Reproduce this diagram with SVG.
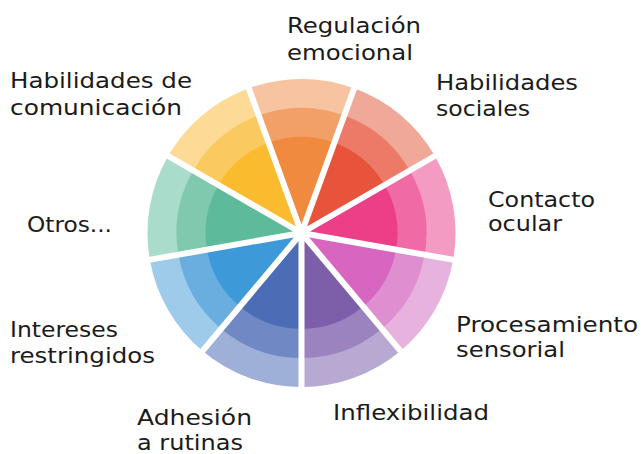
<svg xmlns="http://www.w3.org/2000/svg" width="643" height="454" viewBox="0 0 643 454">
<style>
text{font-family:"DejaVu Sans","Liberation Sans",sans-serif;font-size:21px;fill:#1b1b1b}
.gap{stroke:#ffffff;stroke-width:6;stroke-linecap:butt;fill:none}
.o1{fill:#F7C3A0}.o2{fill:#F2A068}.o3{fill:#F08A3E}
.r1{fill:#F0A898}.r2{fill:#EC7A66}.r3{fill:#E8533C}
.p1{fill:#F49BC3}.p2{fill:#F06AA5}.p3{fill:#EC3F88}
.m1{fill:#E8B2DF}.m2{fill:#DF8FD0}.m3{fill:#D866C0}
.v1{fill:#B8A9D3}.v2{fill:#9A83BF}.v3{fill:#7D5EA8}
.b1{fill:#9EB0D8}.b2{fill:#7089C5}.b3{fill:#4A6DB5}
.c1{fill:#9FCBEB}.c2{fill:#6AAEE0}.c3{fill:#3D99D8}
.g1{fill:#A9DCCA}.g2{fill:#80C9AE}.g3{fill:#5DBB9C}
.y1{fill:#FDDB96}.y2{fill:#FAC95F}.y3{fill:#FBBB2E}
</style>
<rect width="643" height="454" fill="#ffffff"/>

<g id="regulacion">
<path class="o1" d="M301.5 233 L248.83 88.29 A154 154 0 0 1 354.17 88.29 Z"/>
<path class="o2" d="M301.5 233 L258.75 115.54 A125 125 0 0 1 344.25 115.54 Z"/>
<path class="o3" d="M301.5 233 L268.67 142.79 A96 96 0 0 1 334.33 142.79 Z"/>
<text x="287" y="33" textLength="134" lengthAdjust="spacingAndGlyphs">Regulación</text>
<text x="287" y="60" textLength="126" lengthAdjust="spacingAndGlyphs">emocional</text>
</g>

<g id="habilidades-sociales">
<path class="r1" d="M301.5 233 L354.17 88.29 A154 154 0 0 1 434.87 156 Z"/>
<path class="r2" d="M301.5 233 L344.25 115.54 A125 125 0 0 1 409.75 170.5 Z"/>
<path class="r3" d="M301.5 233 L334.33 142.79 A96 96 0 0 1 384.64 185 Z"/>
<text x="436" y="90" textLength="142" lengthAdjust="spacingAndGlyphs">Habilidades</text>
<text x="436" y="116" textLength="94" lengthAdjust="spacingAndGlyphs">sociales</text>
</g>

<g id="contacto-ocular">
<path class="p1" d="M301.5 233 L434.87 156 A154 154 0 0 1 453.16 259.73 Z"/>
<path class="p2" d="M301.5 233 L409.75 170.5 A125 125 0 0 1 424.6 254.7 Z"/>
<path class="p3" d="M301.5 233 L384.64 185 A96 96 0 0 1 396.04 249.67 Z"/>
<text x="488" y="207" textLength="107" lengthAdjust="spacingAndGlyphs">Contacto</text>
<text x="488" y="231" textLength="74" lengthAdjust="spacingAndGlyphs">ocular</text>
</g>

<g id="procesamiento-sensorial">
<path class="m1" d="M301.5 233 L453.16 259.73 A154 154 0 0 1 400.49 350.96 Z"/>
<path class="m2" d="M301.5 233 L424.6 254.7 A125 125 0 0 1 381.85 328.75 Z"/>
<path class="m3" d="M301.5 233 L396.04 249.67 A96 96 0 0 1 363.21 306.54 Z"/>
<text x="456" y="332" textLength="182" lengthAdjust="spacingAndGlyphs">Procesamiento</text>
<text x="456" y="357" textLength="109" lengthAdjust="spacingAndGlyphs">sensorial</text>
</g>

<g id="inflexibilidad">
<path class="v1" d="M301.5 233 L400.49 350.96 A154 154 0 0 1 301.5 387 Z"/>
<path class="v2" d="M301.5 233 L381.85 328.75 A125 125 0 0 1 301.5 358 Z"/>
<path class="v3" d="M301.5 233 L363.21 306.54 A96 96 0 0 1 301.5 329 Z"/>
<text x="333" y="420" textLength="156" lengthAdjust="spacingAndGlyphs">Inflexibilidad</text>
</g>

<g id="adhesion-rutinas">
<path class="b1" d="M301.5 233 L301.5 387 A154 154 0 0 1 202.51 350.96 Z"/>
<path class="b2" d="M301.5 233 L301.5 358 A125 125 0 0 1 221.15 328.75 Z"/>
<path class="b3" d="M301.5 233 L301.5 329 A96 96 0 0 1 239.79 306.54 Z"/>
<text x="137" y="425" textLength="115" lengthAdjust="spacingAndGlyphs">Adhesión</text>
<text x="137" y="450" textLength="106" lengthAdjust="spacingAndGlyphs">a rutinas</text>
</g>

<g id="intereses-restringidos">
<path class="c1" d="M301.5 233 L202.51 350.96 A154 154 0 0 1 149.84 259.73 Z"/>
<path class="c2" d="M301.5 233 L221.15 328.75 A125 125 0 0 1 178.4 254.7 Z"/>
<path class="c3" d="M301.5 233 L239.79 306.54 A96 96 0 0 1 206.96 249.67 Z"/>
<text x="10" y="337" textLength="108" lengthAdjust="spacingAndGlyphs">Intereses</text>
<text x="10" y="363" textLength="145" lengthAdjust="spacingAndGlyphs">restringidos</text>
</g>

<g id="otros">
<path class="g1" d="M301.5 233 L149.84 259.73 A154 154 0 0 1 168.13 156 Z"/>
<path class="g2" d="M301.5 233 L178.4 254.7 A125 125 0 0 1 193.25 170.5 Z"/>
<path class="g3" d="M301.5 233 L206.96 249.67 A96 96 0 0 1 218.36 185 Z"/>
<text x="27" y="232" textLength="85" lengthAdjust="spacingAndGlyphs">Otros...</text>
</g>

<g id="habilidades-comunicacion">
<path class="y1" d="M301.5 233 L168.13 156 A154 154 0 0 1 248.83 88.29 Z"/>
<path class="y2" d="M301.5 233 L193.25 170.5 A125 125 0 0 1 258.75 115.54 Z"/>
<path class="y3" d="M301.5 233 L218.36 185 A96 96 0 0 1 268.67 142.79 Z"/>
<text x="10" y="88" textLength="182" lengthAdjust="spacingAndGlyphs">Habilidades de</text>
<text x="10" y="115" textLength="172" lengthAdjust="spacingAndGlyphs">comunicación</text>
</g>

<g id="connectors">
<line class="gap" x1="301.5" y1="233" x2="246.1" y2="80.77"/>
<line class="gap" x1="301.5" y1="233" x2="356.9" y2="80.77"/>
<line class="gap" x1="301.5" y1="233" x2="441.8" y2="152"/>
<line class="gap" x1="301.5" y1="233" x2="461.04" y2="261.13"/>
<line class="gap" x1="301.5" y1="233" x2="405.63" y2="357.1"/>
<line class="gap" x1="301.5" y1="233" x2="301.5" y2="395"/>
<line class="gap" x1="301.5" y1="233" x2="197.37" y2="357.1"/>
<line class="gap" x1="301.5" y1="233" x2="141.96" y2="261.13"/>
<line class="gap" x1="301.5" y1="233" x2="161.2" y2="152"/>
<circle cx="301.5" cy="233" r="5" fill="#ffffff"/>
</g>
</svg>
